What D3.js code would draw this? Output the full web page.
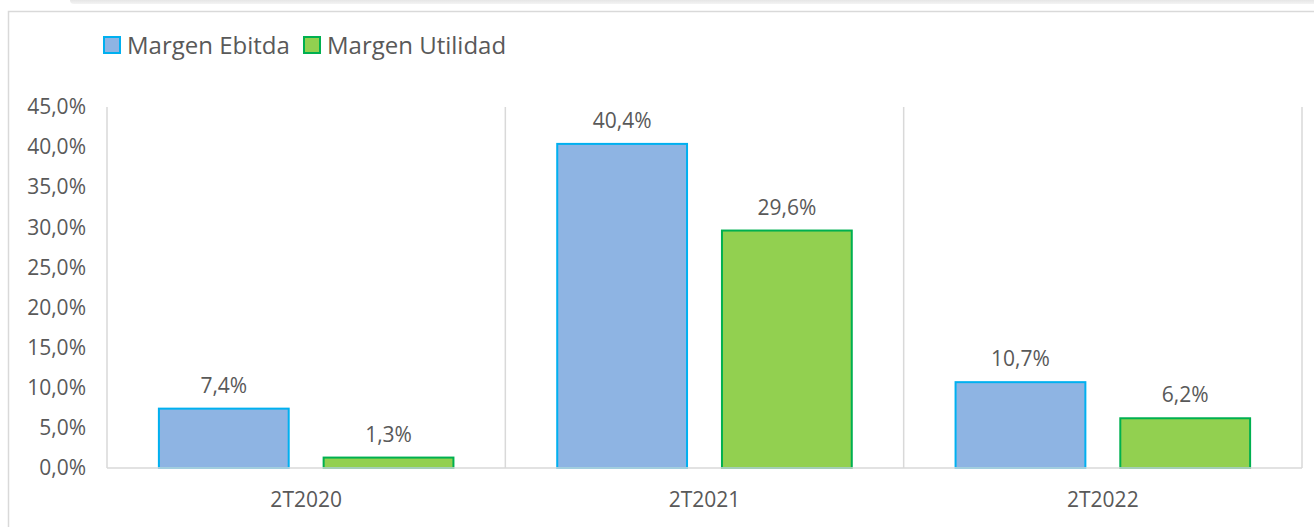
<!DOCTYPE html>
<html>
<head>
<meta charset="utf-8">
<script src="https://cdn.jsdelivr.net/npm/d3@7"></script>
<style>
  html, body { margin: 0; padding: 0; background: #fff; }
  svg { display: block; font-family: "Open Sans", sans-serif; }
</style>
</head>
<body>
<svg width="1314" height="527"></svg>
<script>
const categories = ['2T2020', '2T2021', '2T2022'];
const series = ['Margen Ebitda', 'Margen Utilidad'];
const ebitda = [7.4, 40.4, 10.7];
const utilidad = [1.3, 29.6, 6.2];
const yTicks = [0, 5, 10, 15, 20, 25, 30, 35, 40, 45];

const fills = { 'Margen Ebitda': '#8eb4e3', 'Margen Utilidad': '#92d050' };
const strokes = { 'Margen Ebitda': '#00b0f0', 'Margen Utilidad': '#00b050' };

const data = categories.map((c, i) => ({
  cat: c,
  values: [
    { key: series[0], value: ebitda[i] },
    { key: series[1], value: utilidad[i] }
  ]
}));

const fmt = v => d3.format('.1f')(v).replace('.', ',') + '%';

const svg = d3.select('svg');

// top shadow strip
const defs = svg.append('defs');
const grad = defs.append('linearGradient').attr('id', 'shade')
  .attr('x1', 0).attr('y1', 0).attr('x2', 0).attr('y2', 1);
grad.append('stop').attr('offset', '0%').attr('stop-color', '#d0d0d0');
grad.append('stop').attr('offset', '100%').attr('stop-color', '#f4f4f4');
svg.append('rect')
  .attr('x', 70).attr('y', -6).attr('width', 1260).attr('height', 10)
  .attr('rx', 4)
  .attr('fill', 'url(#shade)');

// chart frame
svg.append('path')
  .attr('d', 'M8.5,540 L8.5,11.5 L1320,11.5')
  .attr('fill', 'none')
  .attr('stroke', '#d9d9d9')
  .attr('stroke-width', 1.5);

const margin = { top: 107, left: 107 };
const innerW = 1302 - margin.left;
const innerH = 468 - margin.top;
const fontSize = '21px';

const g = svg.append('g')
  .attr('transform', `translate(${margin.left},${margin.top})`);

const x0 = d3.scaleBand().domain(categories).range([0, innerW]).padding(0);
const x1 = d3.scaleBand().domain(series).range([0, x0.bandwidth()])
  .paddingInner(0.212).paddingOuter(0.315);
const y = d3.scaleLinear().domain([0, 45]).range([innerH, 0]);

// vertical separators
const seps = categories.map(c => x0(c)).concat([innerW]);
g.selectAll('.sep').data(seps).enter().append('line')
  .attr('x1', d => d).attr('x2', d => d)
  .attr('y1', 0).attr('y2', innerH)
  .attr('stroke', '#d9d9d9').attr('stroke-width', 1.5);

// y axis
const yAxisG = g.append('g')
  .call(d3.axisLeft(y).tickValues(yTicks).tickSize(0).tickPadding(21).tickFormat(fmt));
yAxisG.select('.domain').remove();
yAxisG.selectAll('text')
  .attr('fill', '#595959')
  .style('font-size', fontSize)
  .style('font-family', '"Open Sans", sans-serif');

// bars
const groups = g.selectAll('.grp').data(data).enter().append('g')
  .attr('transform', d => `translate(${x0(d.cat)},0)`);

groups.selectAll('rect').data(d => d.values).enter().append('rect')
  .attr('x', d => x1(d.key))
  .attr('y', d => y(d.value))
  .attr('width', x1.bandwidth())
  .attr('height', d => innerH - y(d.value))
  .attr('fill', d => fills[d.key])
  .attr('stroke', d => strokes[d.key])
  .attr('stroke-width', 2);

groups.selectAll('.lbl').data(d => d.values).enter().append('text')
  .attr('x', d => x1(d.key) + x1.bandwidth() / 2)
  .attr('y', d => y(d.value) - 16)
  .attr('text-anchor', 'middle')
  .attr('fill', '#595959')
  .style('font-size', fontSize)
  .text(d => fmt(d.value));

// baseline
g.append('line')
  .attr('x1', 0).attr('x2', innerW)
  .attr('y1', innerH).attr('y2', innerH)
  .attr('stroke', '#d9d9d9').attr('stroke-width', 1.5);

// x axis labels
const xAxisG = g.append('g')
  .attr('transform', `translate(0,${innerH})`)
  .call(d3.axisBottom(x0).tickSize(0).tickPadding(24));
xAxisG.select('.domain').remove();
xAxisG.selectAll('text')
  .attr('fill', '#595959')
  .style('font-size', fontSize)
  .style('font-family', '"Open Sans", sans-serif');

// legend
const legendItems = [
  { key: series[0], x: 103 },
  { key: series[1], x: 303 }
];
const legendG = svg.append('g');
legendItems.forEach(it => {
  legendG.append('rect')
    .attr('x', it.x + 1).attr('y', 37)
    .attr('width', 16).attr('height', 16)
    .attr('fill', fills[it.key])
    .attr('stroke', strokes[it.key])
    .attr('stroke-width', 2);
  legendG.append('text')
    .attr('x', it.x + 24).attr('y', 54)
    .attr('fill', '#595959')
    .style('font-size', '24px')
    .text(it.key);
});
</script>
</body>
</html>
